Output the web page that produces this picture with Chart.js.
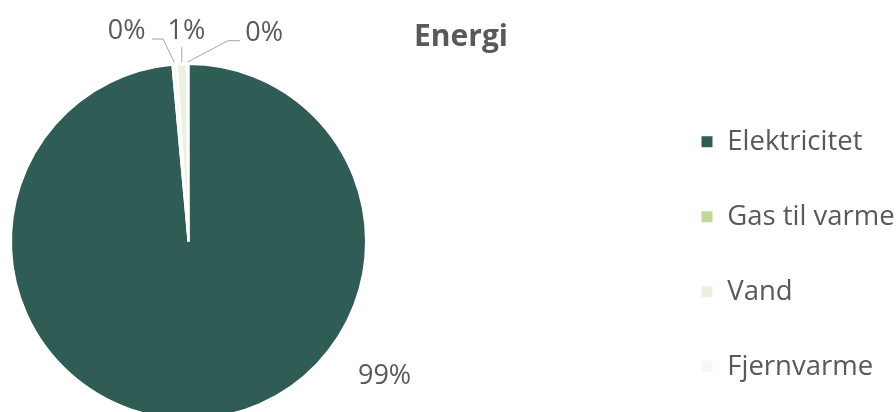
<!DOCTYPE html>
<html>
<head>
<meta charset="utf-8">
<script src="https://cdn.jsdelivr.net/npm/chart.js@4.4.1/dist/chart.umd.min.js"></script>
<style>
  html, body { margin: 0; padding: 0; background: #ffffff; overflow: hidden; width: 896px; height: 412px; }
  #wrap { position: relative; width: 896px; height: 412px; overflow: hidden; }
  #c { position: absolute; left: -276px; top: 0; width: 1172px; height: 440px; }
</style>
</head>
<body>
<div id="wrap"><canvas id="c" width="1172" height="440"></canvas></div>
<script>
// ---- data (legend order) ----
const titleText = 'Energi';
const categories = ['Elektricitet', 'Gas til varme', 'Vand', 'Fjernvarme'];
const values = [98.55, 0.15, 0.9, 0.4];
const colors = ['#2f5c54', '#c3d69b', '#ebf1de', '#f9f7f1'];
// order in which the slices are laid out clockwise from 12 o'clock
const drawOrder = [0, 3, 2, 1];

// ---- styling / layout ----
const OFFSET_X = 276;            // canvas is shifted left by this many px
const TEXT = '#595959';
const LEADER = '#a6a6a6';
const FONT = "'Open Sans', 'Liberation Sans', sans-serif";
// label placement relative to each slice's outer mid point (annotation layout only)
const labelLayout = [
  { dx: 188, dy: -35, leader: null },                                   // Elektricitet
  { dx: 76.5, dy: -23.3, leader: [[40.3, -23.3], [52.3, -23.3]] },     // Gas til varme
  { dx: 4.6, dy: -25.2, leader: [[0, -17]] },                           // Vand
  { dx: -48, dy: -25.5, leader: [[-11.5, -25.5], [-22.5, -25.5]] }      // Fjernvarme
];

const pctLabels = {
  id: 'pctLabels',
  afterDatasetsDraw(chart) {
    const ctx = chart.ctx;
    const meta = chart.getDatasetMeta(0);
    const total = values.reduce((s, v) => s + v, 0);
    ctx.save();
    ctx.font = '27px ' + FONT;
    ctx.fillStyle = TEXT;
    ctx.textAlign = 'center';
    ctx.textBaseline = 'alphabetic';
    ctx.strokeStyle = LEADER;
    ctx.lineWidth = 1;
    meta.data.forEach((arc, i) => {
      const c = drawOrder[i];
      const p = arc.getProps(['x', 'y', 'startAngle', 'endAngle', 'outerRadius'], true);
      const mid = (p.startAngle + p.endAngle) / 2;
      const cs = Math.cos(mid), sn = Math.sin(mid);
      const ax = p.x + cs * p.outerRadius;
      const ay = p.y + sn * p.outerRadius;
      const L = labelLayout[c];
      if (L.leader) {
        ctx.beginPath();
        ctx.moveTo(ax + cs * 2, ay + sn * 2);
        L.leader.forEach(([dx, dy]) => ctx.lineTo(ax + dx, ay + dy));
        ctx.stroke();
      }
      const pct = Math.round(values[c] * 100 / total);
      ctx.fillText(pct + '%', ax + L.dx, ay + L.dy);
    });
    ctx.restore();
  }
};

const chartTitle = {
  id: 'chartTitle',
  afterDraw(chart) {
    const ctx = chart.ctx;
    ctx.save();
    ctx.font = 'bold 30px ' + FONT;
    ctx.fillStyle = TEXT;
    ctx.textAlign = 'center';
    ctx.textBaseline = 'alphabetic';
    ctx.fillText(titleText, OFFSET_X + 461, 46);
    ctx.restore();
  }
};

function build() {
  new Chart(document.getElementById('c'), {
    type: 'pie',
    data: {
      labels: drawOrder.map(i => categories[i]),
      datasets: [{
        data: drawOrder.map(i => values[i]),
        backgroundColor: drawOrder.map(i => colors[i]),
        borderColor: '#ffffff',
        borderWidth: 2,
        radius: 177.5
      }]
    },
    options: {
      responsive: false,
      animation: false,
      devicePixelRatio: 1,
      layout: { padding: { left: 0, right: 0, top: 55, bottom: 12 } },
      plugins: {
        title: { display: false },
        tooltip: { enabled: false },
        legend: {
          position: 'right',
          align: 'end',
          maxWidth: 243,
          labels: {
            boxWidth: 13,
            boxHeight: 13,
            padding: 47.5,
            color: TEXT,
            font: { family: FONT, size: 27.5 },
            sort: (a, b) => drawOrder[a.index] - drawOrder[b.index]
          }
        }
      }
    },
    plugins: [pctLabels, chartTitle]
  });
}

if (document.fonts && document.fonts.load) {
  Promise.all([
    document.fonts.load("27.5px 'Open Sans'"),
    document.fonts.load("bold 30px 'Open Sans'")
  ]).then(build, build);
} else {
  build();
}
</script>
</body>
</html>
